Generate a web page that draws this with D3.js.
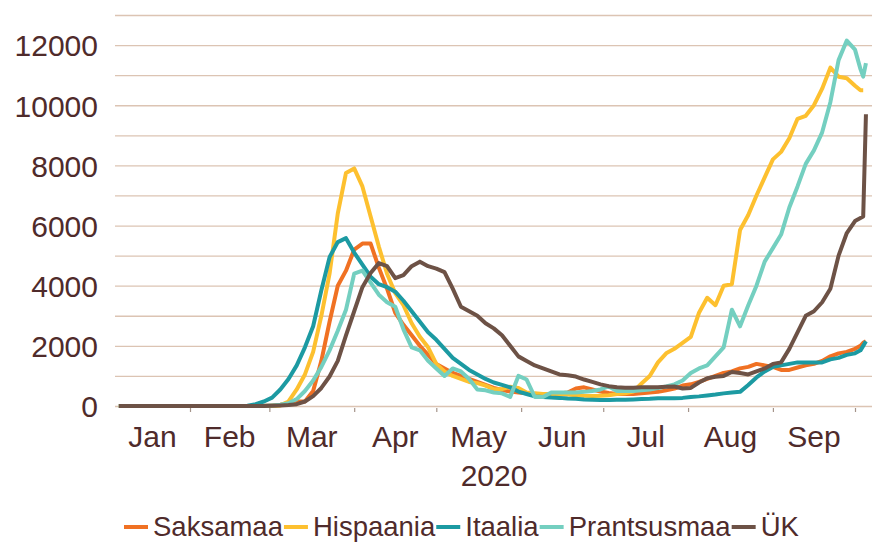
<!DOCTYPE html>
<html>
<head>
<meta charset="utf-8">
<script src="https://cdnjs.cloudflare.com/ajax/libs/d3/7.8.5/d3.min.js"></script>
<style>
  body { margin: 0; background: #fff; }
  text { font-family: "Liberation Sans", Arial, sans-serif; fill: #4f2b2b; }
</style>
</head>
<body>
<div id="canvas"></div>
<script>
// päevad (iga ~3 päeva järel, loetud pildilt)
var dates = ["2020-01-06","2020-02-01","2020-02-16","2020-02-22","2020-02-25","2020-02-28",
  "2020-03-02","2020-03-05","2020-03-08","2020-03-11","2020-03-14","2020-03-17","2020-03-20","2020-03-23","2020-03-26","2020-03-29",
  "2020-04-01","2020-04-04","2020-04-07","2020-04-10","2020-04-13","2020-04-16","2020-04-19","2020-04-22","2020-04-25","2020-04-28",
  "2020-05-01","2020-05-04","2020-05-07","2020-05-10","2020-05-13","2020-05-16","2020-05-19","2020-05-22","2020-05-25","2020-05-28","2020-05-31",
  "2020-06-03","2020-06-06","2020-06-09","2020-06-12","2020-06-15","2020-06-18","2020-06-21","2020-06-24","2020-06-27","2020-06-30",
  "2020-07-03","2020-07-06","2020-07-09","2020-07-12","2020-07-15","2020-07-18","2020-07-21","2020-07-24","2020-07-27","2020-07-30",
  "2020-08-02","2020-08-05","2020-08-08","2020-08-11","2020-08-14","2020-08-17","2020-08-20","2020-08-23","2020-08-26","2020-08-29",
  "2020-09-01","2020-09-04","2020-09-07","2020-09-10","2020-09-13","2020-09-16","2020-09-19","2020-09-22","2020-09-25","2020-09-28",
  "2020-10-01","2020-10-03","2020-10-04","2020-10-05"];

var saksamaa = [0,0,0,0,0,5,20,40,80,150,
  150,500,1500,2800,4000,4500,5200,5400,5400,4600,
  3900,3100,2700,2350,2000,1700,1400,1250,1100,1000,
  900,800,700,600,530,480,450,420,400,380,
  400,420,450,580,620,550,480,430,400,400,
  400,420,450,470,520,580,680,720,800,900,
  1000,1100,1150,1250,1300,1400,1350,1300,1200,1200,
  1280,1350,1400,1500,1650,1750,1800,1900,2000,2100,
  2150];

var hispaania = [0,0,0,0,0,0,0,20,150,550,
  1050,1800,3000,4400,6400,7750,7900,7300,6300,5300,
  4400,3750,3350,2750,2300,1950,1400,1150,1000,900,
  800,760,680,560,560,640,600,450,420,400,
  400,380,380,360,340,330,340,360,400,420,
  480,750,1000,1450,1750,1900,2100,2300,3100,3600,
  3350,4000,4050,5850,6350,7000,7600,8200,8450,8900,
  9550,9650,10000,10550,11250,10950,10900,10650,10500,10500,
  null];

var itaalia = [0,0,0,10,60,150,280,550,900,1350,
  1950,2650,3850,4950,5450,5580,5100,4700,4300,4050,
  3950,3800,3500,3150,2800,2450,2200,1900,1600,1400,
  1200,1050,900,780,700,620,480,400,320,300,
  280,270,250,240,220,210,200,200,210,210,
  220,230,240,260,260,260,270,300,320,350,
  380,420,450,470,700,950,1150,1300,1350,1400,
  1450,1450,1450,1450,1550,1600,1700,1750,1850,2000,
  2150];

var prantsusmaa = [0,0,0,0,0,5,20,40,90,230,
  500,850,1300,1850,2500,3200,4400,4500,4100,3700,
  3450,3300,2550,1950,1850,1500,1250,1000,1250,1150,
  900,550,520,450,420,300,1000,880,300,300,
  450,450,450,450,470,500,550,650,500,500,
  500,520,550,600,650,720,850,1100,1250,1350,
  1650,1950,3200,2650,3350,4000,4800,5250,5700,6600,
  7300,8050,8500,9100,10100,11500,12150,11850,11200,10950,
  11400];

var yk = [0,0,0,0,0,0,5,15,30,60,
  150,330,600,980,1500,2350,3150,3950,4420,4750,
  4650,4250,4350,4650,4800,4650,4570,4450,3900,3300,
  3150,3000,2750,2580,2350,2000,1650,1500,1350,1250,
  1150,1050,1020,980,880,800,720,660,620,610,
  610,620,620,620,640,650,580,600,780,920,
  970,1000,1130,1100,1050,1150,1250,1400,1450,1900,
  2450,3000,3150,3450,3900,5000,5750,6150,6250,6300,
  9700];

var seriesNames = ["Saksamaa", "Hispaania", "Itaalia", "Prantsusmaa", "ÜK"];
var seriesValues = [saksamaa, hispaania, itaalia, prantsusmaa, yk];
var seriesColors = ["#f07123", "#fdc02f", "#1c9aa2", "#74cfc0", "#6d5246"];

var monthStarts = ["2020-02-01","2020-03-01","2020-04-01","2020-05-01","2020-06-01",
  "2020-07-01","2020-08-01","2020-09-01","2020-10-01"];
var monthLabels = ["Jan","Feb","Mar","Apr","May","Jun","Jul","Aug","Sep"];
var yLabels = [0, 2000, 4000, 6000, 8000, 10000, 12000];
var yGrid = d3.range(0, 14000, 1000);

var width = 872, height = 543;
var plotLeft = 115, plotRight = 872;

var parse = d3.utcParse("%Y-%m-%d");

svg = d3.select("#canvas").append("svg")
  .attr("width", width)
  .attr("height", height);

var x = d3.scaleUtc()
  .domain([parse("2020-02-01"), parse("2020-10-01")])
  .range([190, 855]);

var y = d3.scaleLinear()
  .domain([0, 13000])
  .range([406, 15]);

// ruudustik
var grid = svg.append("g")
  .attr("transform", "translate(" + plotLeft + ",0)")
  .call(d3.axisLeft(y).tickValues(yGrid).tickSize(-(plotRight - plotLeft)).tickFormat(""));
grid.select(".domain").remove();
grid.selectAll("line").attr("stroke", "#dcc4b3").attr("stroke-width", 1.3);

// y telje sildid, ilma tuhandete eraldajata
var yAxis = svg.append("g")
  .attr("transform", "translate(" + plotLeft + ",0)")
  .call(d3.axisLeft(y).tickValues(yLabels).tickSize(0).tickPadding(17).tickFormat(d3.format("d")));
yAxis.select(".domain").remove();
yAxis.selectAll("text")
  .attr("font-size", 30)
  .attr("dy", "0.36em")
  .style("font-family", '"Liberation Sans", Arial, sans-serif')
  .attr("fill", "#4f2b2b");

// x telje kriipsud kuu alguses
var xAxis = svg.append("g")
  .attr("transform", "translate(0,408)")
  .call(d3.axisBottom(x).tickValues(monthStarts.map(parse)).tickSize(4).tickFormat(""));
xAxis.select(".domain").remove();
xAxis.selectAll("line").attr("stroke", "#a5948a").attr("stroke-width", 1.2);

// kuude nimed kahe kriipsu vahel
var edges = [plotLeft].concat(monthStarts.map(function(d) { return x(parse(d)); }));
svg.append("g").selectAll("text")
  .data(monthLabels)
  .enter().append("text")
  .attr("x", function(d, i) { return (edges[i] + edges[i + 1]) / 2; })
  .attr("y", 447)
  .attr("text-anchor", "middle")
  .attr("font-size", 30)
  .text(function(d) { return d; });

svg.append("text")
  .attr("x", 494)
  .attr("y", 486)
  .attr("text-anchor", "middle")
  .attr("font-size", 30)
  .text("2020");

// jooned
var line = d3.line()
  .defined(function(d) { return d.v != null; })
  .x(function(d) { return x(d.date); })
  .y(function(d) { return y(d.v); });

seriesValues.forEach(function(vals, i) {
  var pts = dates.map(function(d, j) { return { date: parse(d), v: vals[j] }; });
  svg.append("path")
    .datum(pts)
    .attr("fill", "none")
    .attr("stroke", seriesColors[i])
    .attr("stroke-width", 4)
    .attr("stroke-linejoin", "round")
    .attr("d", line);
});

// legend
var lx = 124;
var legend = svg.append("g");
seriesNames.forEach(function(name, i) {
  legend.append("line")
    .attr("x1", lx).attr("x2", lx + 24)
    .attr("y1", 527).attr("y2", 527)
    .attr("stroke", seriesColors[i])
    .attr("stroke-width", 4);
  var t = legend.append("text")
    .attr("x", lx + 29)
    .attr("y", 536)
    .attr("font-size", 27.5)
    .text(name);
  lx = lx + 29 + t.node().getComputedTextLength() + 1;
});
</script>
</body>
</html>
